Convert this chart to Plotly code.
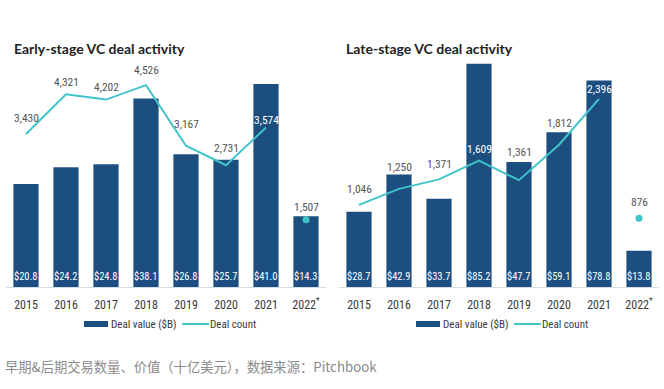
import plotly.graph_objects as go

years = ["2015", "2016", "2017", "2018", "2019", "2020", "2021", "2022*"]
early_value = [20.8, 24.2, 24.8, 38.1, 26.8, 25.7, 41.0, 14.3]
early_count = [3430, 4321, 4202, 4526, 3167, 2731, 3574, 1507]
late_value = [28.7, 42.9, 33.7, 85.2, 47.7, 59.1, 78.8, 13.8]
late_count = [1046, 1250, 1371, 1609, 1361, 1812, 2396, 876]

# label offsets (px) above the count points, and whether label sits on a dark bar
early_shift = [16, 12, 13, 15, 22, 17, 8, 13]
early_white = [False, False, False, False, False, False, True, False]
late_shift = [16, 22, 15, 12, 28, 22, 10, 16]
late_white = [False, False, False, True, False, False, True, False]

tick_text = [y.replace("*", "<sup>*</sup>") for y in years]

BAR = "#1c4f7f"
LINE = "#41c3cb"
TXT = "#3a3a3a"
FONT = "Roboto Condensed, Liberation Sans Narrow, Roboto, sans-serif"

W, H = 664, 389
def px(x):
    return x / W
def py(y):
    return 1 - y / H

base_y, top_y = 287, 55
ydom = [py(base_y), py(top_y)]
Hp = base_y - top_y

fig = go.Figure()

panels = [
    dict(xa="x", ya="y", ya2="y2", vals=early_value, cnts=early_count, shift=early_shift,
         white=early_white, dom=[px(6), px(326)], r1=Hp / 4.95, r2=Hp / 0.0446,
         title="Early-stage VC deal activity", tx=12, leg=84),
    dict(xa="x2", ya="y3", ya2="y4", vals=late_value, cnts=late_count, shift=late_shift,
         white=late_white, dom=[px(339), px(659)], r1=Hp / 2.62, r2=Hp / 0.0785,
         title="Late-stage VC deal activity", tx=344, leg=416),
]

annotations = []
shapes = []
layout_axes = {}
for i, p in enumerate(panels):
    fig.add_trace(go.Bar(x=years, y=p["vals"], xaxis=p["xa"], yaxis=p["ya"],
                         marker=dict(color=BAR, line=dict(width=0)), width=0.63,
                         showlegend=False, hoverinfo="skip"))
    fig.add_trace(go.Scatter(x=years[:7], y=p["cnts"][:7], xaxis=p["xa"], yaxis=p["ya2"],
                             mode="lines", line=dict(color=LINE, width=2),
                             showlegend=False, hoverinfo="skip"))
    fig.add_trace(go.Scatter(x=years[7:], y=p["cnts"][7:], xaxis=p["xa"], yaxis=p["ya2"],
                             mode="markers", marker=dict(color=LINE, size=7),
                             showlegend=False, hoverinfo="skip"))
    xref = p["xa"]
    yref1 = p["ya"]
    yref2 = p["ya2"]
    for k, yr in enumerate(years):
        annotations.append(dict(x=k, y=0, xref=xref, yref=yref1, yanchor="bottom",
                                yshift=2, showarrow=False,
                                text=f"${p['vals'][k]:.1f}",
                                font=dict(color="white", size=10.5, family=FONT)))
        cnt = p["cnts"][k]
        annotations.append(dict(x=k, y=cnt, xref=xref, yref=yref2, yanchor="middle",
                                yshift=p["shift"][k], showarrow=False,
                                text=f"{cnt:,}",
                                font=dict(color="white" if p["white"][k] else "#555555",
                                          size=11.5, family=FONT)))
    # title
    annotations.append(dict(x=px(p["tx"]), y=py(48), xref="paper", yref="paper",
                            xanchor="left", yanchor="middle", showarrow=False,
                            text="<b>" + p["title"] + "</b>",
                            font=dict(color="#222222", size=14, family="Lato")))
    # legend (manual)
    lx = p["leg"]
    shapes.append(dict(type="rect", xref="paper", yref="paper",
                       x0=px(lx), x1=px(lx + 24), y0=py(327), y1=py(321),
                       fillcolor=BAR, line=dict(width=0)))
    annotations.append(dict(x=px(lx + 25), y=py(324), xref="paper", yref="paper",
                            xanchor="left", yanchor="middle", showarrow=False,
                            text="Deal value ($B)",
                            font=dict(color=TXT, size=11, family=FONT)))
    shapes.append(dict(type="line", xref="paper", yref="paper",
                       x0=px(lx + 98), x1=px(lx + 125), y0=py(324), y1=py(324),
                       line=dict(color=LINE, width=2)))
    annotations.append(dict(x=px(lx + 124), y=py(324), xref="paper", yref="paper",
                            xanchor="left", yanchor="middle", showarrow=False,
                            text="Deal count",
                            font=dict(color=TXT, size=11, family=FONT)))

    axname = "xaxis" if i == 0 else "xaxis2"
    y1name = "yaxis" if i == 0 else "yaxis3"
    y2name = "yaxis2" if i == 0 else "yaxis4"
    layout_axes[axname] = dict(domain=p["dom"], anchor=yref1, type="category",
                               range=[-0.5, 7.5], showgrid=False, zeroline=False,
                               showline=True, linecolor="#d5dde5", linewidth=1,
                               ticks="", fixedrange=True, ticklabelstandoff=7,
                               tickvals=years, ticktext=tick_text,
                               tickfont=dict(color=TXT, size=12, family=FONT))
    layout_axes[y1name] = dict(domain=ydom, anchor=xref, range=[0, p["r1"]],
                               visible=False, fixedrange=True)
    layout_axes[y2name] = dict(domain=ydom, anchor=xref, overlaying=yref1,
                               range=[0, p["r2"]], visible=False, fixedrange=True)

annotations.append(dict(x=px(3), y=py(366), xref="paper", yref="paper",
                        xanchor="left", yanchor="middle", showarrow=False,
                        text="早期&后期交易数量、价值（十亿美元），数据来源：Pitchbook",
                        font=dict(color="#8a8a8a", size=13.3, family="Noto Sans CJK SC")))

fig.update_layout(width=W, height=H, margin=dict(l=0, r=0, t=0, b=0),
                  paper_bgcolor="white", plot_bgcolor="white",
                  showlegend=False, annotations=annotations, shapes=shapes,
                  **layout_axes)

fig.write_html("out.html", config={"displayModeBar": False},
               post_script="document.body.style.margin='0';")
